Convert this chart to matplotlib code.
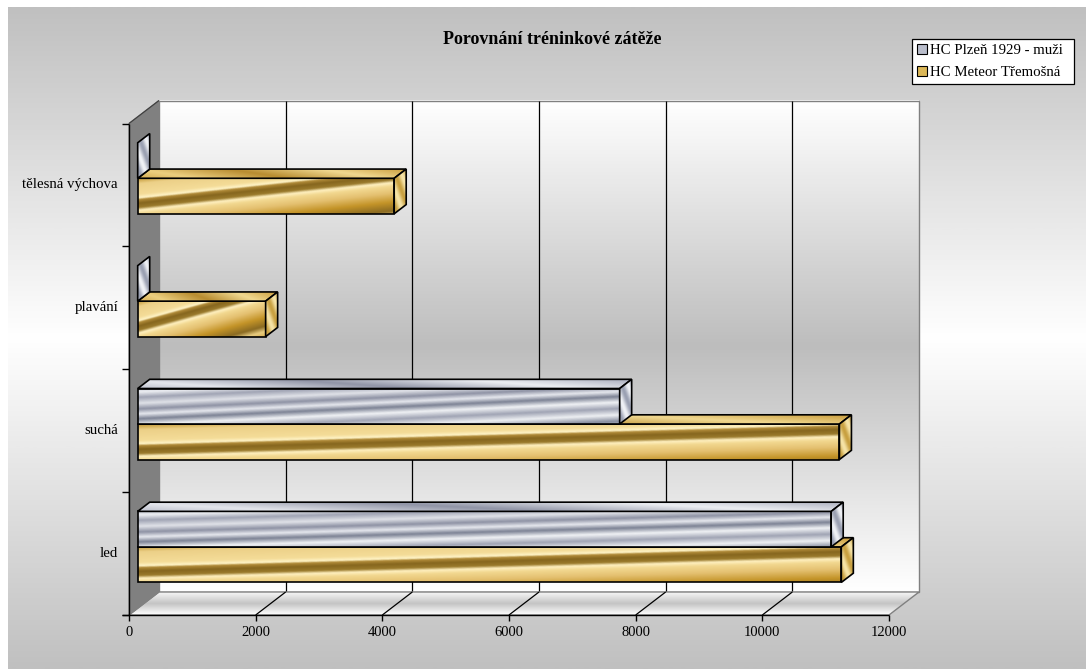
import numpy as np
import matplotlib
matplotlib.use("Agg")
import matplotlib.pyplot as plt
from matplotlib.patches import Polygon, Rectangle, Patch
from matplotlib.colors import LinearSegmentedColormap

plt.rcParams["image.composite_image"] = False
plt.rcParams["font.family"] = ["Liberation Serif", "DejaVu Serif"]

# ---- data -------------------------------------------------------------
title = "Porovnání tréninkové zátěže"
categories = ["led", "suchá", "plavání", "tělesná výchova"]
series_names = ["HC Plzeň 1929 - muži", "HC Meteor Třemošná"]
plzen = [10950, 7610, 0, 0]
tremosna = [11110, 11080, 2020, 4050]
x_ticks = [0, 2000, 4000, 6000, 8000, 10000, 12000]
x_max = 12000

# ---- figure / scale ----------------------------------------------------
W, H = 1086, 669
fig = plt.figure(figsize=(W / 100, H / 100), dpi=100)

# value axis (front plane of the 3-D box); used for its data scale only
ax = fig.add_axes([129 / W, (H - 615) / H, 760 / W, 491.5 / H])
ax.set_xlim(0, x_max)
ax.set_ylim(-0.5, len(categories) - 0.5)
ax.set_axis_off()

# drawing layer in pixel units
px = fig.add_axes([0, 0, 1, 1], zorder=2)
px.set_axis_off()
px.set_autoscale_on(False)
px.set_xlim(0, W)
px.set_ylim(0, H)
px.patch.set_alpha(0)

DX, DY = 30.0, 23.0       # oblique depth offset of the whole box (pixels)
D0, D1 = 0.29, 0.69       # bar depth range
BAR_H = 0.289             # bar thickness in category units


def proj(x, y, d=0.0):
    X, Y = ax.transData.transform((x, y))
    return X + DX * d, Y + DY * d


zc = [0]


def nz():
    zc[0] += 1
    return zc[0]


def cmap_from(stops, name):
    return LinearSegmentedColormap.from_list(name, stops)


def textured(poly_pts, tfunc, cmap, edge=None, lw=1.0):
    pts = np.asarray(poly_pts)
    x0, x1 = pts[:, 0].min(), pts[:, 0].max()
    y0, y1 = pts[:, 1].min(), pts[:, 1].max()
    w = max(int(np.ceil(x1 - x0)) * 2, 2)
    h = max(int(np.ceil(y1 - y0)) * 2, 2)
    gx = np.linspace(x0, x1, w)
    gy = np.linspace(y1, y0, h)
    PX, PY = np.meshgrid(gx, gy)
    T = np.clip(tfunc(PX, PY), 0, 1)
    z = nz()
    im = px.imshow(cmap(T), extent=(x0, x1, y0, y1), aspect="auto",
                   interpolation="bilinear", zorder=z)
    clip = Polygon(pts, closed=True, transform=px.transData)
    im.set_clip_path(clip)
    if edge is not None:
        px.add_patch(Polygon(pts, closed=True, fill=False, edgecolor=edge,
                             lw=lw, zorder=z + 0.5, joinstyle="miter"))


def line(p, q, color="black", lw=1.0):
    px.plot([p[0], q[0]], [p[1], q[1]], color=color, lw=lw,
            solid_capstyle="butt", zorder=nz())


# ---- chart area background --------------------------------------------
bg_cmap = cmap_from(["#c0c0c0", "#ffffff", "#c0c0c0"], "bg")
bg = np.linspace(0, 1, 400)[:, None]
px.imshow(bg_cmap(bg), extent=(8, W, 0, H - 7), aspect="auto",
          interpolation="bilinear", zorder=nz())

# ---- back wall ----------------------------------------------------------
n_cat = len(categories)
bl = proj(0, -0.5, 1)
tr = proj(x_max, n_cat - 0.5, 1)
wall_cmap = cmap_from(["#ffffff", "#bdbdbd", "#ffffff"], "wall")
px.imshow(wall_cmap(bg), extent=(bl[0], tr[0], bl[1], tr[1]), aspect="auto",
          interpolation="bilinear", zorder=nz())
px.add_patch(Rectangle(bl, tr[0] - bl[0], tr[1] - bl[1], fill=False,
                       edgecolor="#808080", lw=1.0, zorder=nz()))
for v in x_ticks[1:-1]:
    line(proj(v, -0.5, 1), proj(v, n_cat - 0.5, 1), "black", 0.9)

# ---- floor --------------------------------------------------------------
floor = [proj(0, -0.5, 0), proj(x_max, -0.5, 0),
         proj(x_max, -0.5, 1), proj(0, -0.5, 1)]
fy0 = floor[0][1]
floor_cmap = cmap_from(["#ffffff", "#c4c4c4", "#f6f6f6"], "floor")
textured(floor, lambda X, Y: (Y - fy0) / DY, floor_cmap)
px.add_patch(Polygon(floor, closed=True, fill=False, edgecolor="#808080",
                     lw=1.0, zorder=nz()))
for v in x_ticks[1:-1]:
    line(proj(v, -0.5, 0), proj(v, -0.5, 1), "black", 0.9)

# ---- left side wall -----------------------------------------------------
side = [proj(0, -0.5, 0), proj(0, n_cat - 0.5, 0),
        proj(0, n_cat - 0.5, 1), proj(0, -0.5, 1)]
px.add_patch(Polygon(side, closed=True, facecolor="#808080",
                     edgecolor="#808080", lw=0.8, zorder=nz()))
line(side[1], side[2], "#404040", 0.9)

# ---- axes lines and ticks ----------------------------------------------
line(proj(0, -0.5), proj(0, n_cat - 0.5), "black", 1.0)
line((proj(0, -0.5)[0] - 7, proj(0, -0.5)[1]), proj(x_max, -0.5), "black", 1.0)
for k in range(n_cat + 1):
    p = proj(0, k - 0.5)
    line((p[0] - 7, p[1]), p, "black", 1.0)
for v in x_ticks:
    p = proj(v, -0.5)
    line(p, (p[0], p[1] - 6), "black", 1.0)
    px.text(p[0], H - 633, f"{v}", ha="center", va="center",
            fontsize=10.5, color="black", zorder=nz())

for k, cat in enumerate(categories):
    p = proj(0, k)
    px.text(118, p[1], cat, ha="right", va="center", fontsize=10.7,
            color="black", zorder=nz())

# ---- bar textures (positions in units of bar height) ---------------------
gold_front = cmap_from([
    (0.0 / 2, "#c49a38"), (0.15 / 2, "#ecd088"), (0.45 / 2, "#f4dc98"),
    (0.55 / 2, "#fff4c8"), (0.60 / 2, "#b08a38"), (0.70 / 2, "#86661e"),
    (0.82 / 2, "#9a7a2c"), (0.90 / 2, "#fff0c0"), (1.0 / 2, "#f2d890"),
    (1.2 / 2, "#e4c070"), (1.45 / 2, "#c49428"), (1.7 / 2, "#8a6a22"),
    (1.85 / 2, "#e8cc80"), (2.0 / 2, "#d8b050")], "gold")
silver_front = cmap_from([
    (0.00 / 2, "#c8ccd6"), (0.10 / 2, "#eceef2"), (0.25 / 2, "#a0a4b4"),
    (0.42 / 2, "#e0e2e8"), (0.58 / 2, "#8e92a4"), (0.72 / 2, "#e6e8ee"),
    (0.86 / 2, "#7c8294"), (1.02 / 2, "#f0f2f5"), (1.20 / 2, "#a0a4b4"),
    (1.38 / 2, "#eef0f3"), (1.56 / 2, "#868c9e"), (1.74 / 2, "#dcdfe6"),
    (2.0 / 2, "#a8acbc")], "silver")
gold_side = cmap_from(["#f6e4a8", "#c8a040"], "gold_side")
silver_side = cmap_from(["#f0f2f6", "#9aa0b2"], "silver_side")
gold_top = cmap_from(["#c89a38", "#eccf80", "#b88c30", "#f0d890",
                      "#c89a38"], "gold_top")
silver_top = cmap_from(["#a8acbc", "#e4e6ec", "#9094a6", "#eceef2",
                        "#a8acbc"], "silver_top")

styles = {
    0: (plzen, silver_front, silver_top, silver_side, 0.0),
    1: (tremosna, gold_front, gold_top, gold_side, -BAR_H),
}


def draw_bar(val, y0, y1, front, top, sidecm):
    Xa, Yb = proj(0, y0, D0)
    Xb, Yt = proj(val, y1, D0)
    ddx, ddy = DX * (D1 - D0), DY * (D1 - D0)
    fw = max(Xb - Xa, 1e-6)
    fh = Yt - Yb
    slope = min(1.0, (128.0 / fw) ** 0.35)
    if val > 0:
        front_pts = [(Xa, Yb), (Xb, Yb), (Xb, Yt), (Xa, Yt)]
        textured(front_pts,
                 lambda X, Y: (((Yt - Y) / fh) + slope * (X - Xa) / fw) / 2.0,
                 front, edge="black", lw=1.2)
        top_pts = [(Xa, Yt), (Xb, Yt), (Xb + ddx, Yt + ddy), (Xa + ddx, Yt + ddy)]
        textured(top_pts,
                 lambda X, Y: 0.1 + 0.7 * (X - Xa - (Y - Yt) * ddx / ddy) / fw
                 + 0.2 * (Y - Yt) / ddy,
                 top, edge="black", lw=1.2)
    side_pts = [(Xb, Yb), (Xb, Yt), (Xb + ddx, Yt + ddy), (Xb + ddx, Yb + ddy)]
    textured(side_pts,
             lambda X, Y: 0.5 + 0.5 * np.sin(
                 2 * np.pi * (0.9 * (X - Xb) / ddx + 1.3 * (Y - Yb) / (fh + ddy))),
             sidecm, edge="black", lw=1.2)


for k in range(n_cat):
    for s in (1, 0):
        vals, front, top, sidecm, off = styles[s]
        draw_bar(vals[k], k + off, k + off + BAR_H, front, top, sidecm)

# ---- title and legend ---------------------------------------------------
fig.text(552 / W, 1 - 40 / H, title, ha="center", va="center",
         fontsize=13, fontweight="bold", color="black")

handles = [Patch(facecolor="#b9bdcb", edgecolor="black", lw=0.8),
           Patch(facecolor="#dcb858", edgecolor="black", lw=0.8)]
leg = fig.legend(handles, series_names, loc="upper left", mode="expand",
                 bbox_to_anchor=(912 / W, 1 - 84 / H, 162 / W, 45 / H),
                 borderaxespad=0,
                 fontsize=10.7, frameon=True, fancybox=False, shadow=False,
                 handlelength=0.68, handleheight=0.68, handletextpad=0.2,
                 borderpad=0.32, labelspacing=0.58)
leg.get_frame().set_edgecolor("black")
leg.get_frame().set_linewidth(0.9)
leg.get_frame().set_facecolor("white")
leg.get_frame().set_alpha(1)
leg.set_zorder(10)

fig.savefig("out.png", dpi=100)
